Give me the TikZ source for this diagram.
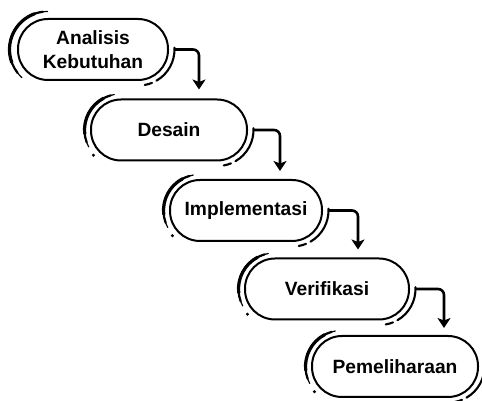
\documentclass[tikz,border=0pt]{standalone}
\usepackage{fontspec}
\setmainfont{Liberation Sans}
\usetikzlibrary{arrows.meta,calc}
\begin{document}
\begin{tikzpicture}[x=1pt,y=1pt,
  box/.style={rectangle, rounded corners=30pt, draw, line width=2pt,
    minimum height=61pt, inner sep=0pt, align=center,
    font=\bfseries\fontsize{19.2}{24}\selectfont},
  brush/.style={line cap=round},
  rbrush/.style={line width=2.1pt, line cap=round},
  arr/.style={line width=2.6pt, rounded corners=6pt,
    -{Stealth[length=10pt,width=13pt,inset=2.5pt]}}]
\useasboundingbox (0,0) rectangle (482,401);
\clip (0,0) rectangle (482,401);

\node[box, minimum width=150pt] (b1) at (93,351.5) {Analisis\\Kebutuhan};
\node[box, minimum width=156pt] (b2) at (169,271) {Desain};
\node[box, minimum width=152pt] (b3) at (246,190.5) {Implementasi};
\node[box, minimum width=164pt] (b4) at (327,112) {Verifikasi};
\node[box, minimum width=166pt] (b5) at (395,34.5) {Pemeliharaan};

% left brush strokes (tapered by stacking)
\draw[brush, line width=1.2pt] ([xshift=30.5pt]b1.west) ++(90:38pt) arc[start angle=90,end angle=228,radius=38pt];
\draw[brush, line width=2.2pt] ([xshift=30.5pt]b1.west) ++(97:38pt) arc[start angle=97,end angle=218,radius=38pt];
\draw[brush, line width=3.2pt] ([xshift=30.5pt]b1.west) ++(110:38pt) arc[start angle=110,end angle=200,radius=38pt];
\foreach \b in {b2,b3,b4,b5}{
  \draw[brush, line width=1.2pt] ([xshift=30.5pt]\b.west) ++(100:36pt) arc[start angle=100,end angle=208,radius=36pt];
  \draw[brush, line width=2.2pt] ([xshift=30.5pt]\b.west) ++(106:36pt) arc[start angle=106,end angle=200,radius=36pt];
  \draw[brush, line width=3.2pt] ([xshift=30.5pt]\b.west) ++(118:36pt) arc[start angle=118,end angle=186,radius=36pt];
  \fill ([xshift=30.5pt]\b.west) ++(223:37pt) circle[radius=1.7pt];
}
% right brush strokes
\foreach \b in {b1,b2,b3,b4,b5}{
  \draw[rbrush] ([xshift=-30.5pt]\b.east) ++(3:36pt) arc[start angle=3,end angle=-60,radius=36pt];
  \draw[rbrush] ([xshift=-30.5pt]\b.east) ++(-68:36pt) arc[start angle=-68,end angle=-80,radius=36pt];
}

% arrows
\draw[arr] ([xshift=5pt]b1.east) -| ($(b1.east |- b2.north)+(30pt,9pt)$);
\draw[arr] ([xshift=5pt]b2.east) -| ($(b2.east |- b3.north)+(32pt,8pt)$);
\draw[arr] ([xshift=5pt]b3.east) -| ($(b3.east |- b4.north)+(35pt,8pt)$);
\draw[arr] ([xshift=5pt]b4.east) -| ($(b4.east |- b5.north)+(34pt,7pt)$);
\end{tikzpicture}
\end{document}
